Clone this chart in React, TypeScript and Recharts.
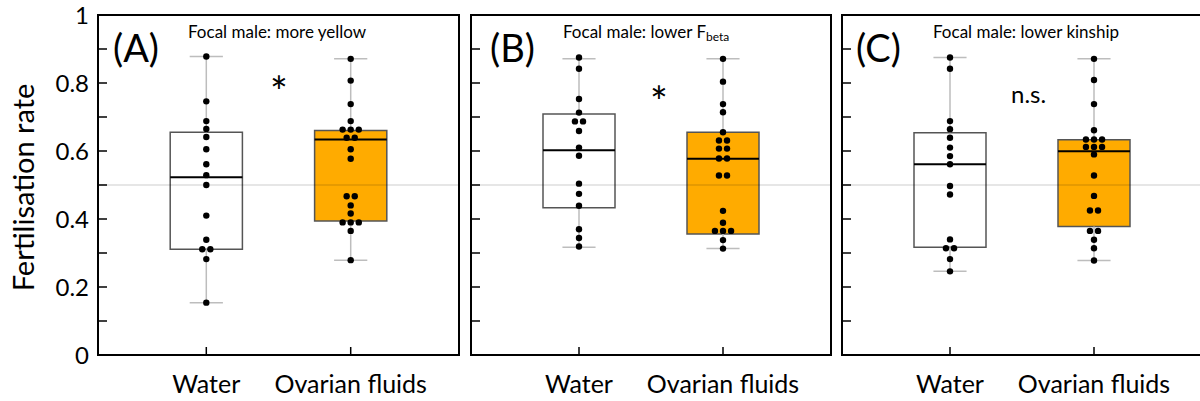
import React from 'react';
import { ComposedChart, XAxis, YAxis, Scatter, ReferenceArea, ReferenceLine } from 'recharts';

const FONT = 'Lato, "Gill Sans", "Open Sans", sans-serif';

const groups = ['Water', 'Ovarian fluids'];
const yTicks = [0, 0.1, 0.2, 0.3, 0.4, 0.5, 0.6, 0.7, 0.8, 0.9, 1];
const panelLabels = ['(A)', '(B)', '(C)'];
const panelTitles = ['Focal male: more yellow', 'Focal male: lower F', 'Focal male: lower kinship'];
const signif = ['*', '*', 'n.s.'];

// raw points per group
const waterA = [0.878, 0.746, 0.688, 0.665, 0.641, 0.605, 0.561, 0.529, 0.5, 0.41, 0.339, 0.311, 0.311, 0.282, 0.154];
const ovarianA = [0.871, 0.807, 0.738, 0.688, 0.663, 0.663, 0.663, 0.639, 0.639, 0.605, 0.577, 0.467, 0.467, 0.44, 0.416, 0.39, 0.39, 0.39, 0.365, 0.279];
const waterB = [0.875, 0.842, 0.753, 0.713, 0.687, 0.687, 0.659, 0.61, 0.586, 0.504, 0.474, 0.439, 0.37, 0.344, 0.319];
const ovarianB = [0.871, 0.804, 0.738, 0.714, 0.655, 0.631, 0.631, 0.607, 0.607, 0.578, 0.578, 0.528, 0.528, 0.424, 0.389, 0.365, 0.365, 0.365, 0.338, 0.313];
const waterC = [0.875, 0.842, 0.688, 0.664, 0.639, 0.61, 0.585, 0.561, 0.497, 0.472, 0.34, 0.314, 0.314, 0.282, 0.246];
const ovarianC = [0.871, 0.809, 0.738, 0.661, 0.634, 0.634, 0.634, 0.612, 0.612, 0.612, 0.59, 0.528, 0.468, 0.425, 0.425, 0.365, 0.365, 0.339, 0.314, 0.278];

// box stats: [whisker low, q1, median, q3, whisker high]
const boxWaterA = [0.154, 0.311, 0.523, 0.655, 0.878];
const boxOvarianA = [0.279, 0.394, 0.634, 0.66, 0.871];
const boxWaterB = [0.317, 0.433, 0.602, 0.709, 0.871];
const boxOvarianB = [0.313, 0.356, 0.577, 0.655, 0.871];
const boxWaterC = [0.246, 0.317, 0.561, 0.654, 0.875];
const boxOvarianC = [0.278, 0.378, 0.599, 0.633, 0.871];

const BOX_HALF = 0.25;
const CAP_HALF = 0.115;
const DOT_GAP = 0.056;

// spread equal values sideways like a beeswarm
function toPoints(values: number[], center: number) {
  const counts: Record<string, number> = {};
  values.forEach(v => { counts[v] = (counts[v] || 0) + 1; });
  const seen: Record<string, number> = {};
  return values.map(v => {
    const n = counts[v];
    const i = seen[v] || 0;
    seen[v] = i + 1;
    return { x: center + (i - (n - 1) / 2) * DOT_GAP, y: v };
  });
}

const fmt = (v: number) => (v === 0 ? '0' : v === 1 ? '1' : v.toFixed(1));

const YTick = (props: any) => {
  const { x, y, payload, showLabel } = props;
  const v = payload.value;
  const major = Math.round(v * 10) % 2 === 0;
  return (
    <g>
      {v > 0 && v < 1 && <line x1={x} x2={x + 9} y1={y} y2={y} stroke="#000" strokeWidth={1.5} />}
      {showLabel && major && (
        <text x={x - 9} y={y} dy="0.36em" textAnchor="end" fontSize={24} fontFamily={FONT} fill="#000">
          {fmt(v)}
        </text>
      )}
    </g>
  );
};

const XTick = (props: any) => {
  const { x, y, payload } = props;
  return (
    <g>
      <line x1={x} x2={x} y1={y} y2={y - 8} stroke="#000" strokeWidth={1.5} />
      <text x={x} y={y + 38} textAnchor="middle" fontSize={25} fontFamily={FONT} fill="#000">
        {groups[payload.value - 1]}
      </text>
    </g>
  );
};

const Dot = (props: any) => <circle cx={props.cx} cy={props.cy} r={3.2} fill="#000" />;

function BoxParts(center: number, box: number[], fill: string) {
  const [lo, q1, med, q3, hi] = box;
  return [
    <ReferenceLine key={`wl${center}`} segment={[{ x: center, y: lo }, { x: center, y: q1 }]} stroke="#bdbdbd" strokeWidth={1.5} />,
    <ReferenceLine key={`wh${center}`} segment={[{ x: center, y: q3 }, { x: center, y: hi }]} stroke="#bdbdbd" strokeWidth={1.5} />,
    <ReferenceLine key={`cl${center}`} segment={[{ x: center - CAP_HALF, y: lo }, { x: center + CAP_HALF, y: lo }]} stroke="#bdbdbd" strokeWidth={1.5} />,
    <ReferenceLine key={`ch${center}`} segment={[{ x: center - CAP_HALF, y: hi }, { x: center + CAP_HALF, y: hi }]} stroke="#bdbdbd" strokeWidth={1.5} />,
    <ReferenceArea key={`b${center}`} x1={center - BOX_HALF} x2={center + BOX_HALF} y1={q1} y2={q3} fill={fill} fillOpacity={1} stroke="#555" strokeWidth={1.5} />,
  ];
}

function Panel({ left, width, axisWidth, water, ovarian, waterBox, ovarianBox, showYLabels }: any) {
  return (
    <div style={{ position: 'absolute', left, top: 0 }}>
      <ComposedChart width={width} height={401} margin={{ top: 15, right: 11, bottom: 0, left: 0 }}>
        <XAxis
          type="number"
          dataKey="x"
          domain={[0.25, 2.75]}
          ticks={[1, 2]}
          allowDataOverflow
          axisLine={false}
          tickLine={false}
          tickSize={0}
          tickMargin={0}
          height={46}
          tick={(p: any) => <XTick {...p} />}
        />
        <YAxis
          type="number"
          dataKey="y"
          domain={[0, 1]}
          ticks={yTicks}
          interval={0}
          width={axisWidth}
          axisLine={false}
          tickLine={false}
          tickSize={0}
          tickMargin={0}
          tick={(p: any) => <YTick {...p} showLabel={showYLabels} />}
        />
        {BoxParts(1, waterBox, '#ffffff')}
        {BoxParts(2, ovarianBox, '#ffab00')}
        <ReferenceLine y={0.5} stroke="#000" strokeOpacity={0.2} strokeWidth={1} />
        <ReferenceLine segment={[{ x: 1 - BOX_HALF, y: waterBox[2] }, { x: 1 + BOX_HALF, y: waterBox[2] }]} stroke="#000" strokeWidth={2} />
        <ReferenceLine segment={[{ x: 2 - BOX_HALF, y: ovarianBox[2] }, { x: 2 + BOX_HALF, y: ovarianBox[2] }]} stroke="#000" strokeWidth={2} />
        <Scatter data={toPoints(water, 1)} shape={Dot} isAnimationActive={false} />
        <Scatter data={toPoints(ovarian, 2)} shape={Dot} isAnimationActive={false} />
        <ReferenceArea x1={0.25} x2={2.75} y1={0} y2={1} fill="none" fillOpacity={0} stroke="#000" strokeWidth={2} />
      </ComposedChart>
    </div>
  );
}

const labelX = [113, 490, 856];
const titleX = [188, 563, 933];
const signifX = [279, 659, 1011];
const signifY = [107, 117, 103];

export default function App() {
  return (
    <div style={{ position: 'relative', width: 1200, height: 401, overflow: 'hidden', background: '#fff', fontFamily: FONT }}>
      <style>{'body{margin:0}'}</style>
      <Panel left={0} width={470} axisWidth={98} water={waterA} ovarian={ovarianA} waterBox={boxWaterA} ovarianBox={boxOvarianA} showYLabels />
      <Panel left={461} width={381} axisWidth={10} water={waterB} ovarian={ovarianB} waterBox={boxWaterB} ovarianBox={boxOvarianB} showYLabels={false} />
      <Panel left={832} width={381} axisWidth={10} water={waterC} ovarian={ovarianC} waterBox={boxWaterC} ovarianBox={boxOvarianC} showYLabels={false} />
      <svg width={1200} height={401} style={{ position: 'absolute', left: 0, top: 0, pointerEvents: 'none' }}>
        <text transform="translate(34,187.5) rotate(-90)" textAnchor="middle" fontSize={29} fontFamily={FONT} fill="#000">
          Fertilisation rate
        </text>
        {panelLabels.map((t, i) => (
          <text key={t} x={labelX[i]} y={62} fontSize={38} fontFamily={FONT} fill="#000">{t}</text>
        ))}
        {panelTitles.map((t, i) => (
          <text key={t} x={titleX[i]} y={38} fontSize={17} fontFamily={FONT} fill="#000">
            {t}
            {i === 1 && <tspan fontSize={12} dy={3}>beta</tspan>}
          </text>
        ))}
        {signif.map((t, i) => (
          <text key={i} x={signifX[i]} y={signifY[i]} textAnchor={t === '*' ? 'middle' : 'start'} fontSize={t === '*' ? 42 : 24} fontFamily={FONT} fill="#000">
            {t}
          </text>
        ))}
      </svg>
    </div>
  );
}
